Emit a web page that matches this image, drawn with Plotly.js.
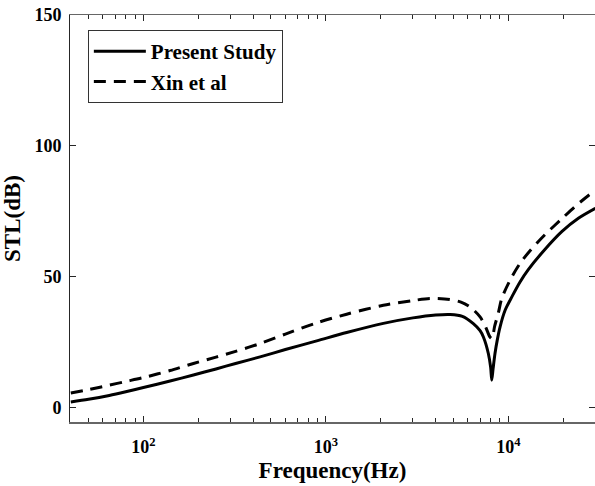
<!DOCTYPE html>
<html>
<head>
<meta charset="utf-8">
<script src="https://cdn.plot.ly/plotly-3.0.1.min.js"></script>
<style>html,body{margin:0;padding:0;background:#fff;}#chart{width:595px;height:486px;}</style>
</head>
<body>
<div id="chart"></div>
<script>
// Present Study
const freqPresent = [40, 50, 65, 80, 100, 140, 188, 250, 320, 436, 600, 891, 1300, 2065, 3000, 4000, 4800, 5600, 6430, 7000, 7300, 7770, 8000, 8110, 8250, 8450, 8700, 9010, 9600, 10450, 11590, 12890, 15900, 19620, 24200, 30000];
const stlPresent  = [2.3, 3.3, 4.8, 6.2, 7.8, 10.3, 12.6, 14.9, 17.0, 19.5, 22.3, 25.6, 28.8, 32.3, 34.4, 35.5, 35.7, 35.0, 32.2, 29.5, 27.1, 20.8, 15.5, 10.6, 15.0, 20.8, 26.0, 31.0, 37.3, 42.4, 48.1, 52.9, 60.6, 67.3, 72.4, 76.2];
// Xin et al
const freqXin = [40, 50, 65, 80, 100, 140, 188, 250, 320, 436, 600, 891, 1300, 2065, 3000, 3720, 4790, 5500, 6160, 7000, 7500, 7930, 8150, 8400, 8830, 9200, 10220, 11590, 13330, 15900, 19620, 23200, 27600, 30000];
const stlXin  = [5.7, 7.0, 8.7, 10.1, 11.6, 14.3, 17.0, 19.4, 21.6, 24.6, 28.2, 32.5, 35.8, 39.2, 41.0, 41.8, 41.4, 40.4, 38.6, 34.8, 31.0, 27.1, 26.5, 31.0, 36.5, 41.8, 48.8, 55.2, 60.5, 66.2, 72.2, 76.9, 81.2, 83.0];

const seriesNames = ['Present Study', 'Xin et al'];
const xTickVals = [100, 1000, 10000];
const xTickText = ['10<sup>2</sup>', '10<sup>3</sup>', '10<sup>4</sup>'];
const xMinorVals = [40, 50, 60, 70, 80, 90, 200, 300, 400, 500, 600, 700, 800, 900, 2000, 3000, 4000, 5000, 6000, 7000, 8000, 9000, 20000, 30000];
const yTickVals = [0, 50, 100, 150];

const FAM = '"Liberation Serif", "Times New Roman", "DejaVu Serif", serif';
const font = {family: FAM, color: '#000'};

const traces = [
  {x: freqPresent, y: stlPresent, name: seriesNames[0], mode: 'lines',
   line: {color: '#000', width: 3, shape: 'spline', smoothing: 0.8}},
  {x: freqXin, y: stlXin, name: seriesNames[1], mode: 'lines',
   line: {color: '#000', width: 3, dash: '12px,8px', shape: 'spline', smoothing: 0.8}}
];

const layout = {
  width: 595, height: 486,
  margin: {l: 70, r: 0, t: 15, b: 64},
  paper_bgcolor: '#fff', plot_bgcolor: '#fff',
  font: Object.assign({size: 18}, font),
  showlegend: true,
  legend: {
    x: 0.034, y: 0.963, xanchor: 'left', yanchor: 'top',
    bgcolor: '#fff', bordercolor: '#333', borderwidth: 1,
    font: Object.assign({size: 21, weight: 'bold'}, font),
    itemwidth: 52,
    tracegroupgap: 0
  },
  xaxis: {
    type: 'log', range: [Math.log10(39.6), Math.log10(29850)],
    tickmode: 'array', tickvals: xTickVals, ticktext: xTickText,
    ticks: 'inside', ticklen: 6, tickwidth: 1, tickcolor: '#262626',
    minor: {tickmode: 'array', tickvals: xMinorVals, ticks: 'inside', ticklen: 4, tickwidth: 1, tickcolor: '#262626'},
    showline: true, linecolor: '#666', linewidth: 1.5, mirror: 'ticks',
    showgrid: false, zeroline: false,
    ticklabelstandoff: 8,
    tickfont: Object.assign({size: 18, weight: 'bold'}, font),
    title: {text: 'Frequency(Hz)', font: Object.assign({size: 23, weight: 'bold'}, font), standoff: 6}
  },
  yaxis: {
    range: [-5.35, 150],
    tickmode: 'array', tickvals: yTickVals,
    ticks: 'inside', ticklen: 6, tickwidth: 1, tickcolor: '#262626',
    showline: true, linecolor: '#262626', linewidth: 1, mirror: 'ticks',
    showgrid: false, zeroline: false,
    ticklabelstandoff: 4,
    tickfont: Object.assign({size: 18, weight: 'bold'}, font),
    title: {text: 'STL(dB)', font: Object.assign({size: 23, weight: 'bold'}, font), standoff: 10}
  }
};

Plotly.newPlot('chart', traces, layout, {displayModeBar: false, staticPlot: true});
</script>
</body>
</html>
